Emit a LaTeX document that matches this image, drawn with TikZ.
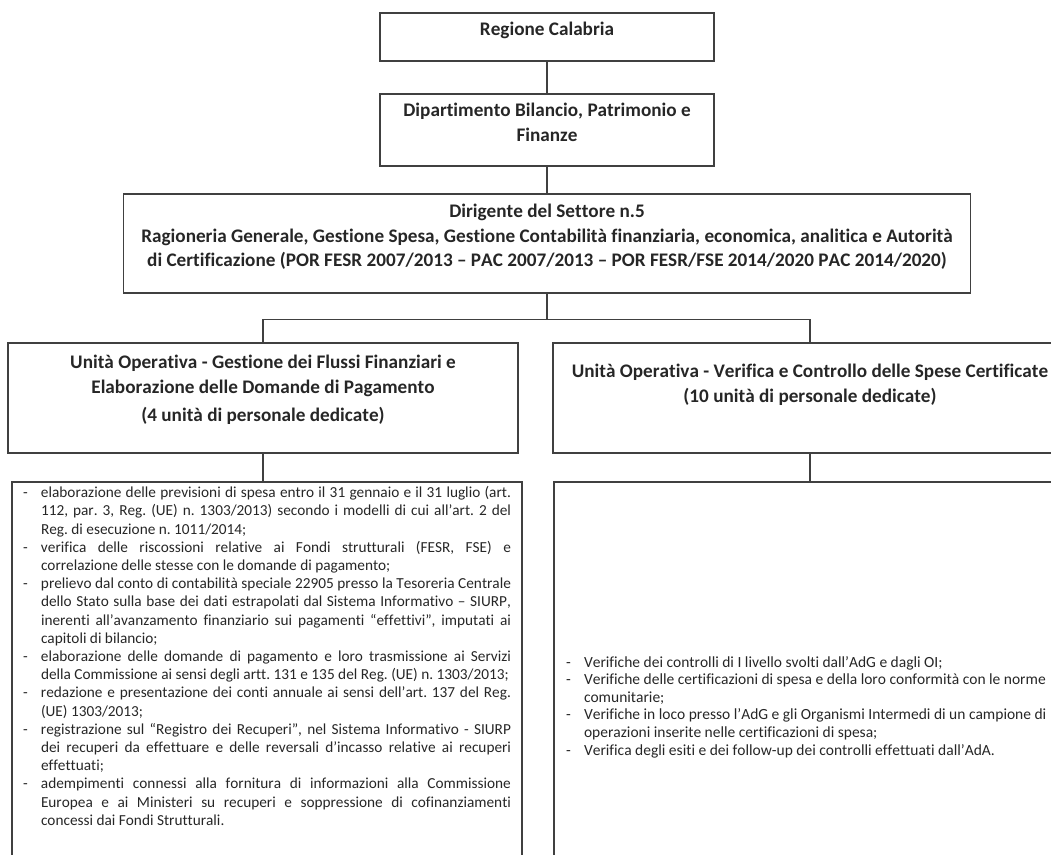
\documentclass[tikz,border=0pt]{standalone}
\usepackage{fontspec}
\setmainfont{Carlito}[Ligatures=NoCommon, Kerning=Off]
\usetikzlibrary{positioning}

\newlength{\trattino}\setlength{\trattino}{18pt}
% #1 larghezza, #2 altezza, #3 prima linea di base, #4 testo
\newcommand{\cella}[4]{\parbox[c][#2][t]{#1}{\centering\vspace*{\dimexpr#3-17pt\relax}\strut#4}}
% #1 trattino, #2 s = giustificata / l = a sinistra, #3 testo
\newcommand{\riga}[3]{\makebox[\trattino][l]{#1}\makebox[\dimexpr\linewidth-\trattino\relax][#2]{#3}}

\begin{document}
\frenchspacing
\begin{tikzpicture}[x=1pt, y=-1pt, on grid, line width=1.4pt]
  \tikzstyle{box}=[draw=black!75, inner sep=0pt, text=black!85]
  \tikzstyle{testa}=[box, font=\fontsize{19.2}{24.5}\selectfont\bfseries]
  \tikzstyle{elenco}=[box, inner xsep=11pt, font=\fontsize{15.3}{18.2}\selectfont]
  \clip (0,0) rectangle (1051,854);

  \node[testa] (reg) at (547,37) {\cella{334pt}{48pt}{22pt}{Regione Calabria}};
  \node[testa] (dip) [below = 93pt of reg] {\cella{334pt}{72pt}{22.5pt}{Dipartimento Bilancio, Patrimonio e\\Finanze}};
  \node[testa] (dir) [below = 113.5pt of dip] {\cella{847pt}{99pt}{23.5pt}{Dirigente del Settore n.5\\Ragioneria Generale, Gestione Spesa, Gestione Contabilità finanziaria, economica, analitica e Autorità\\di Certificazione (POR FESR 2007/2013 – PAC 2007/2013 – POR FESR/FSE 2014/2020 PAC 2014/2020)}};
  \node[testa] (uo1) [below left = 154.5pt and 284pt of dir] {\cella{510pt}{110pt}{25.5pt}{Unità Operativa - Gestione dei Flussi Finanziari e\\Elaborazione delle Domande di Pagamento\\[4pt](4 unità di personale dedicate)}};
  \node[testa] (uo2) [below right = 154.5pt and 263pt of dir] {\cella{514pt}{110pt}{34.5pt}{Unità Operativa - Verifica e Controllo delle Spese Certificate\\(10 unità di personale dedicate)}};

  \node[elenco] (att1) [below = 309pt of uo1, xshift=4pt] {\parbox[c][450pt][t]{488pt}{\vspace*{3pt}\strut
    \riga{-}{s}{elaborazione delle previsioni di spesa entro il 31 gennaio e il 31 luglio (art.}\\
    \riga{}{s}{112, par. 3, Reg. (UE) n. 1303/2013) secondo i modelli di cui all’art. 2 del}\\
    \riga{}{l}{Reg. di esecuzione n. 1011/2014;}\\
    \riga{-}{s}{verifica delle riscossioni relative ai Fondi strutturali (FESR, FSE) e}\\
    \riga{}{l}{correlazione delle stesse con le domande di pagamento;}\\
    \riga{-}{s}{prelievo dal conto di contabilità speciale 22905 presso la Tesoreria Centrale}\\
    \riga{}{s}{dello Stato sulla base dei dati estrapolati dal Sistema Informativo – SIURP,}\\
    \riga{}{s}{inerenti all’avanzamento finanziario sui pagamenti “effettivi”, imputati ai}\\
    \riga{}{l}{capitoli di bilancio;}\\
    \riga{-}{s}{elaborazione delle domande di pagamento e loro trasmissione ai Servizi}\\
    \riga{}{l}{della Commissione ai sensi degli artt. 131 e 135 del Reg. (UE) n. 1303/2013;}\\
    \riga{-}{s}{redazione e presentazione dei conti annuale ai sensi dell’art. 137 del Reg.}\\
    \riga{}{l}{(UE) 1303/2013;}\\
    \riga{-}{s}{registrazione sul “Registro dei Recuperi”, nel Sistema Informativo - SIURP}\\
    \riga{}{s}{dei recuperi da effettuare e delle reversali d’incasso relative ai recuperi}\\
    \riga{}{l}{effettuati;}\\
    \riga{-}{s}{adempimenti connessi alla fornitura di informazioni alla Commissione}\\
    \riga{}{s}{Europea e ai Ministeri su recuperi e soppressione di cofinanziamenti}\\
    \riga{}{l}{concessi dai Fondi Strutturali.}}};
  \node[elenco, inner xsep=12pt, font=\fontsize{15.5}{17.6}\selectfont] (att2) [below = 309pt of uo2] {\parbox[c][450pt][c]{488pt}{
    \riga{-}{l}{Verifiche dei controlli di I livello svolti dall’AdG e dagli OI;}\\
    \riga{-}{l}{Verifiche delle certificazioni di spesa e della loro conformità con le norme}\\
    \riga{}{l}{comunitarie;}\\
    \riga{-}{l}{Verifiche in loco presso l’AdG e gli Organismi Intermedi di un campione di}\\
    \riga{}{l}{operazioni inserite nelle certificazioni di spesa;}\\
    \riga{-}{l}{Verifica degli esiti e dei follow-up dei controlli effettuati dall’AdA.}}};

  \draw[draw=black!75] (reg) -- (dip);
  \draw[draw=black!75] (dip) -- (dir);
  \draw[draw=black!75] (dir.south) -- ++(0,25.5) coordinate (snodo) -| (uo1.north);
  \draw[draw=black!75] (snodo) -| (uo2.north);
  \draw[draw=black!75] (uo1.south) -- (uo1.south |- att1.north);
  \draw[draw=black!75] (uo2) -- (att2);
\end{tikzpicture}
\end{document}
